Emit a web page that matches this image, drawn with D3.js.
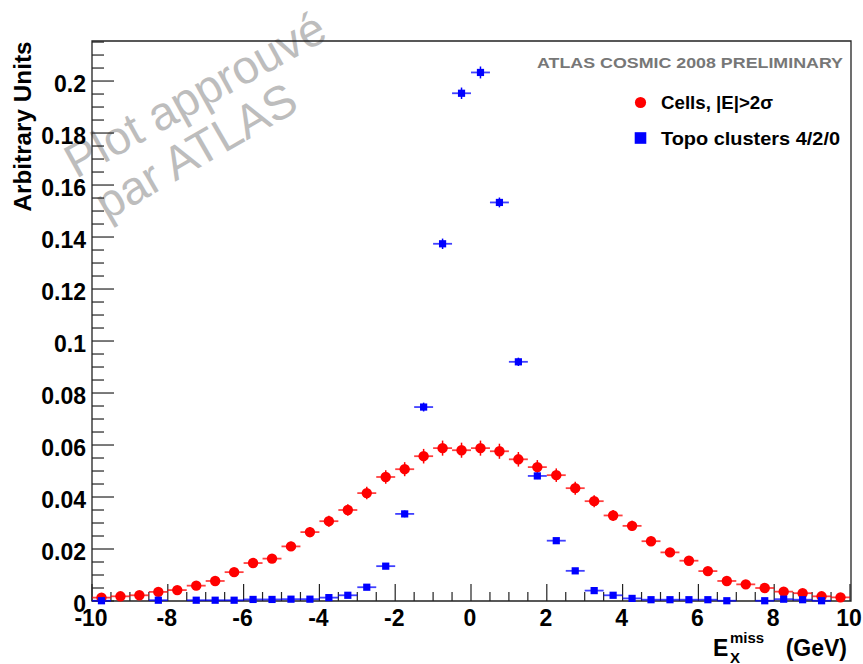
<!DOCTYPE html>
<html>
<head>
<meta charset="utf-8">
<script src="https://cdn.jsdelivr.net/npm/d3@7"></script>
<style>
  html, body { margin: 0; padding: 0; background: #fff; }
  svg { display: block; font-family: "Liberation Sans", Arial, Helvetica, sans-serif; }
</style>
</head>
<body>
<svg id="chart" width="863" height="664"></svg>
<script>
// ---------------- DATA ----------------
const binCenters = [-9.75, -9.25, -8.75, -8.25, -7.75, -7.25, -6.75, -6.25, -5.75, -5.25,
                    -4.75, -4.25, -3.75, -3.25, -2.75, -2.25, -1.75, -1.25, -0.75, -0.25,
                     0.25,  0.75,  1.25,  1.75,  2.25,  2.75,  3.25,  3.75,  4.25,  4.75,
                     5.25,  5.75,  6.25,  6.75,  7.25,  7.75,  8.25,  8.75,  9.25,  9.75];
const binHalfWidth = 0.25;

const cellsValues = [0.0013, 0.0018, 0.0022, 0.0035, 0.0042, 0.0059, 0.0077, 0.0111, 0.0146, 0.0163,
                     0.0210, 0.0265, 0.0307, 0.0350, 0.0415, 0.0477, 0.0507, 0.0557, 0.0588, 0.0580,
                     0.0588, 0.0576, 0.0545, 0.0515, 0.0484, 0.0434, 0.0384, 0.0329, 0.0289, 0.0230,
                     0.0187, 0.0155, 0.0115, 0.0077, 0.0064, 0.0050, 0.0036, 0.0030, 0.0018, 0.0014];
const cellsErrors = [0.0005, 0.0006, 0.0006, 0.0008, 0.0009, 0.0010, 0.0011, 0.0013, 0.0015, 0.0016,
                     0.0018, 0.0020, 0.0021, 0.0022, 0.0024, 0.0026, 0.0027, 0.0028, 0.0029, 0.0029,
                     0.0029, 0.0029, 0.0028, 0.0027, 0.0026, 0.0025, 0.0023, 0.0021, 0.0020, 0.0018,
                     0.0016, 0.0015, 0.0013, 0.0011, 0.0010, 0.0009, 0.0008, 0.0007, 0.0005, 0.0005];

const topoValues = [0.0001, null,   null,   0.0003, null,   0.0003, 0.0003, 0.0003, 0.0006, 0.0006,
                    0.0007, 0.0007, 0.0013, 0.0022, 0.0053, 0.0134, 0.0335, 0.0746, 0.1374, 0.1953,
                    0.2033, 0.1533, 0.0920, 0.0481, 0.0232, 0.0116, 0.0040, 0.0022, 0.0010, 0.0005,
                    0.0005, 0.0005, 0.0005, 0.0001, null,   0.0001, 0.0007, 0.0005, 0.0001, null];
const topoErrors = [0.0001, 0,      0,      0.0002, 0,      0.0002, 0.0002, 0.0002, 0.0003, 0.0003,
                    0.0003, 0.0003, 0.0004, 0.0005, 0.0007, 0.0010, 0.0013, 0.0017, 0.0020, 0.0022,
                    0.0023, 0.0019, 0.0016, 0.0012, 0.0009, 0.0007, 0.0004, 0.0003, 0.0002, 0.0002,
                    0.0002, 0.0002, 0.0002, 0.0001, 0,      0.0001, 0.0003, 0.0002, 0.0001, 0];

const xTickValues = [-10, -8, -6, -4, -2, 0, 2, 4, 6, 8, 10];
const yTickValues = [0, 0.02, 0.04, 0.06, 0.08, 0.1, 0.12, 0.14, 0.16, 0.18, 0.2];
const yTickLabels = ["0", "0.02", "0.04", "0.06", "0.08", "0.1", "0.12", "0.14", "0.16", "0.18", "0.2"];

const seriesNames = ["Cells, |E|>2\u03c3", "Topo clusters 4/2/0"];
const titleText = "ATLAS COSMIC 2008 PRELIMINARY";
const yAxisTitle = "Arbitrary Units";
const watermark = ["Plot approuv\u00e9", "par ATLAS"];

// ---------------- LAYOUT ----------------
const svg = d3.select("#chart");
const padL = 92, padR = 851, padT = 41, padB = 601;

const x = d3.scaleLinear().domain([-10, 10]).range([padL, padR - 1]);
const y = d3.scaleLinear().domain([0, 0.2154]).range([padB, padT]);

// watermark (behind)
const wm = svg.append("g").attr("fill", "#bdbdbd").attr("font-size", 47);
wm.append("text").attr("transform", "translate(76,179) rotate(-29)").text(watermark[0]);
wm.append("text").attr("transform", "translate(107,221) rotate(-30)").text(watermark[1]);

// frame
const axisColor = "#222";
svg.append("path")
  .attr("d", `M${padL},${padB} L${padL},${padT} L${padR},${padT} L${padR},${padB} Z`)
  .attr("fill", "none").attr("stroke", axisColor).attr("stroke-width", 1.3);

// x ticks (pointing up)
const xMinor = d3.range(-10, 10.001, 0.5);
svg.append("g").selectAll("line").data(xMinor).join("line")
  .attr("x1", d => x(d)).attr("x2", d => x(d))
  .attr("y1", padB)
  .attr("y2", d => padB - (Math.abs(d % 2) < 1e-6 ? 17 : 9))
  .attr("stroke", axisColor).attr("stroke-width", 1.2);

// y ticks (pointing right)
const yMinor = d3.range(0, 0.2151, 0.005);
svg.append("g").selectAll("line").data(yMinor).join("line")
  .attr("x1", padL)
  .attr("x2", d => padL + (Math.round(d * 1000) % 20 === 0 ? 22 : 12))
  .attr("y1", d => y(d)).attr("y2", d => y(d))
  .attr("stroke", axisColor).attr("stroke-width", 1.2);

// tick labels
svg.append("g").selectAll("text").data(xTickValues).join("text")
  .attr("x", d => x(d) - 1).attr("y", 626)
  .attr("text-anchor", "middle").attr("font-size", 23).attr("font-weight", "bold")
  .text(d => d);

svg.append("g").selectAll("text").data(yTickValues).join("text")
  .attr("x", 86).attr("y", d => y(d) + 10.5)
  .attr("text-anchor", "end").attr("font-size", 23).attr("font-weight", "bold")
  .text((d, i) => yTickLabels[i]);

// axis titles
svg.append("text")
  .attr("transform", "translate(30.5,41.5) rotate(-90)")
  .attr("text-anchor", "end").attr("font-size", 24).attr("font-weight", "bold")
  .attr("textLength", 170).attr("lengthAdjust", "spacingAndGlyphs")
  .text(yAxisTitle);

const xt = svg.append("g").attr("font-weight", "bold");
xt.append("text").attr("x", 713).attr("y", 656).attr("font-size", 23).text("E");
xt.append("text").attr("x", 730).attr("y", 643).attr("font-size", 15).text("miss");
xt.append("text").attr("x", 730).attr("y", 663).attr("font-size", 15).text("X");
xt.append("text").attr("x", 847).attr("y", 656).attr("text-anchor", "end").attr("font-size", 23).text("(GeV)");

// ---------------- DATA MARKS ----------------
function drawSeries(values, errors, color, marker) {
  const pts = binCenters.map((c, i) => ({ c, v: values[i], e: errors[i] })).filter(d => d.v !== null);
  const g = svg.append("g");
  g.selectAll("line.h").data(pts).join("line").attr("class", "h")
    .attr("x1", d => x(d.c - binHalfWidth)).attr("x2", d => x(d.c + binHalfWidth))
    .attr("y1", d => y(d.v)).attr("y2", d => y(d.v))
    .attr("stroke", color).attr("stroke-opacity", 0.75).attr("stroke-width", 1.8);
  g.selectAll("line.v").data(pts).join("line").attr("class", "v")
    .attr("x1", d => x(d.c)).attr("x2", d => x(d.c))
    .attr("y1", d => y(d.v - d.e)).attr("y2", d => y(d.v + d.e))
    .attr("stroke", color).attr("stroke-width", 1.5);
  if (marker === "circle") {
    g.selectAll("circle").data(pts).join("circle")
      .attr("cx", d => x(d.c)).attr("cy", d => y(d.v)).attr("r", 5.2)
      .attr("fill", color);
  } else {
    g.selectAll("rect").data(pts).join("rect")
      .attr("x", d => x(d.c) - 3.6).attr("y", d => y(d.v) - 3.6)
      .attr("width", 7.2).attr("height", 7.2).attr("fill", color);
  }
}
drawSeries(cellsValues, cellsErrors, "#ff0000", "circle");
drawSeries(topoValues, topoErrors, "#0000ff", "square");

// ---------------- TITLE & LEGEND ----------------
svg.append("text").attr("x", 537).attr("y", 67.5)
  .attr("font-size", 15.5).attr("font-weight", "bold").attr("fill", "#777")
  .attr("textLength", 306).attr("lengthAdjust", "spacingAndGlyphs")
  .text(titleText);

const lg = svg.append("g").attr("font-weight", "bold").attr("font-size", 18.5);
lg.append("circle").attr("cx", 640.5).attr("cy", 102.5).attr("r", 5.6).attr("fill", "#ff0000");
lg.append("text").attr("x", 661).attr("y", 108.7)
  .attr("textLength", 112).attr("lengthAdjust", "spacingAndGlyphs").text(seriesNames[0]);
lg.append("rect").attr("x", 634.7).attr("y", 132.2).attr("width", 11.6).attr("height", 11.6).attr("fill", "#0000ff");
lg.append("text").attr("x", 661).attr("y", 145)
  .attr("textLength", 179).attr("lengthAdjust", "spacingAndGlyphs").text(seriesNames[1]);
</script>
</body>
</html>
